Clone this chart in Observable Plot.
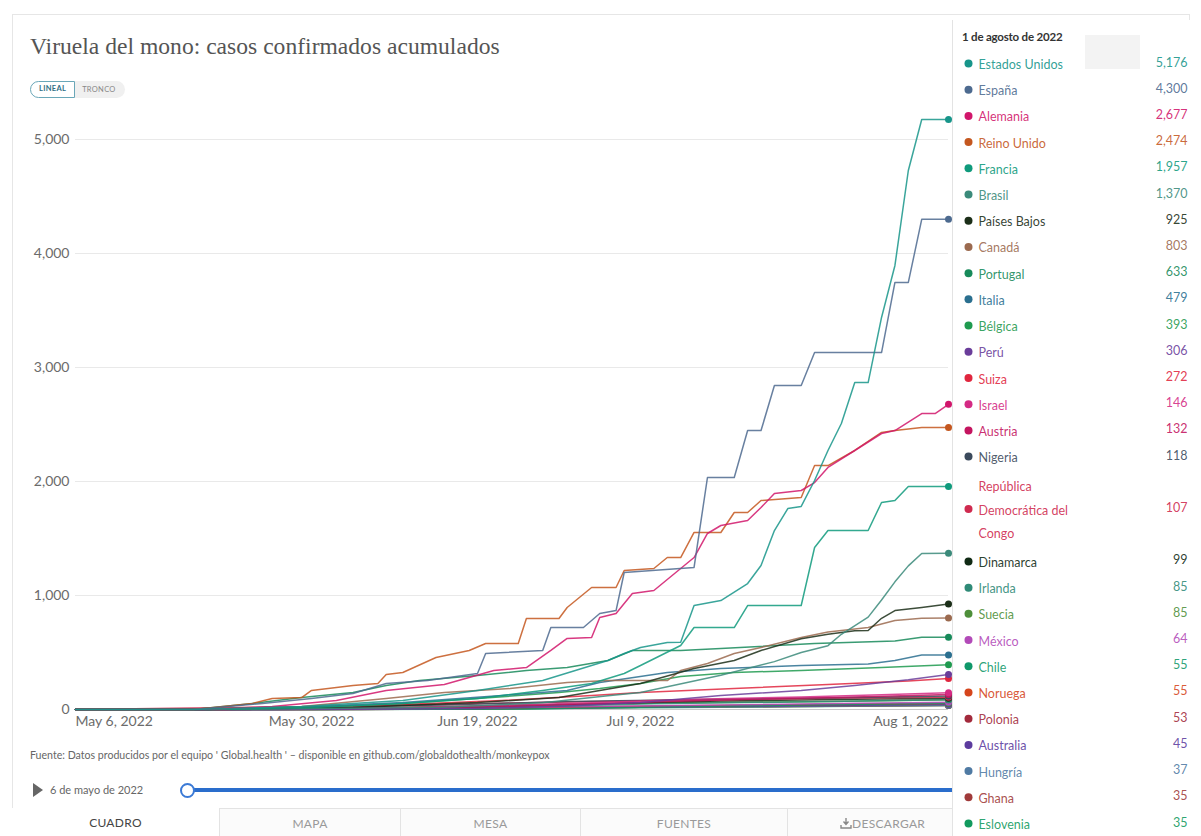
<!DOCTYPE html>
<html><head><meta charset="utf-8">
<script src="https://cdn.jsdelivr.net/npm/d3@7"></script>
<script src="https://cdn.jsdelivr.net/npm/@observablehq/plot@0.6"></script>
<style>
html,body{margin:0;padding:0}
body{width:1201px;height:836px;overflow:hidden;background:#fff;font-family:Lato,"Noto Sans",sans-serif;position:relative}
#card{position:absolute;left:12px;top:14px;width:1178px;height:830px;border:1px solid #e6e6e6;box-sizing:border-box}
#title{position:absolute;left:30px;top:33px;font-family:"Liberation Serif",serif;font-size:23.6px;color:#555;white-space:nowrap}
#toggle{position:absolute;left:30px;top:81px;height:17px;display:flex;font-size:7.5px;letter-spacing:.3px}
#toggle .on{border:1.5px solid #6aa7b8;border-radius:9px 0 0 9px;color:#2f6f86;padding:0 8px;line-height:14px;background:#fff;font-weight:700}
#toggle .off{background:#f0f0f0;border-radius:0 9px 9px 0;color:#888;padding:0 9px 0 7px;line-height:17px}
#chart{position:absolute;left:0;top:110px}
#source{position:absolute;left:30px;top:749px;font-size:10.6px;color:#666;white-space:nowrap}
#play{position:absolute;left:33px;top:783px;width:0;height:0;border-left:10px solid #666;border-top:7px solid transparent;border-bottom:7px solid transparent}
#slidedate{position:absolute;left:50px;top:783px;font-size:11px;color:#666}
#track{position:absolute;left:190px;top:788px;width:765px;height:4px;background:#2a6dcc}
#knob{position:absolute;left:180px;top:783px;width:11px;height:11px;border:2px solid #3b7ad6;border-radius:50%;background:#fff}
.tab{position:absolute;top:808px;height:28px;line-height:30px;text-align:center;font-size:12px;color:#999;border-top:1px solid #e3e3e3;border-left:1px solid #e3e3e3;background:#fbfbfb;box-sizing:border-box;letter-spacing:.3px}
.tab.active{border-top:none;background:#fff;color:#444;border-left:none}
#legendpanel{position:absolute;left:952px;top:20px;width:249px;height:816px;background:#fff;border-left:1px solid #e3e3e3;box-sizing:border-box}
#legendhead{position:absolute;left:962px;top:30px;font-size:11.5px;font-weight:700;color:#333;letter-spacing:-.2px}
#graybox{position:absolute;left:1085px;top:35px;width:55px;height:34px;background:#f3f3f3}
#legend{position:absolute;left:952px;top:20px}
</style></head>
<body>
<div id="card"></div>
<div id="title">Viruela del mono: casos confirmados acumulados</div>
<div id="toggle"><div class="on">LINEAL</div><div class="off">TRONCO</div></div>
<div id="chart"></div>
<div id="source">Fuente: Datos producidos por el equipo ' Global.health ' – disponible en github.com/globaldothealth/monkeypox</div>
<div id="play"></div>
<div id="slidedate">6 de mayo de 2022</div>
<div id="track"></div>
<div id="knob"></div>
<div class="tab active" style="left:12px;width:207px">CUADRO</div>
<div class="tab" style="left:219px;width:181px">MAPA</div>
<div class="tab" style="left:400px;width:180px">MESA</div>
<div class="tab" style="left:580px;width:207px">FUENTES</div>
<div class="tab" style="left:787px;width:240px;text-align:left;padding-left:52px"><svg width="12" height="11" viewBox="0 0 12 11" style="vertical-align:-1px"><path d="M6 0v6M3.5 3.5L6 6.5 8.5 3.5M1 7v3h10V7" stroke="#888" stroke-width="1.4" fill="none"/></svg>DESCARGAR</div>
<div id="legendpanel"></div>
<div id="graybox"></div>
<div id="legendhead">1 de agosto de 2022</div>
<div id="legend"></div>
<script>
const countries = ["Estados Unidos","España","Alemania","Reino Unido","Francia","Brasil","Países Bajos","Canadá","Portugal","Italia","Bélgica","Perú","Suiza","Israel","Austria","Nigeria","República Democrática del Congo","Dinamarca","Irlanda","Suecia","México","Chile","Noruega","Polonia","Australia","Hungría","Ghana","Eslovenia"];
const colors = ["#17958a","#4d6a8f","#d1166b","#c4571f","#0f9a7c","#3b8a7a","#1b2e18","#9b6a4f","#178a5a","#2a6f8f","#1f9a4f","#6a3d9a","#e0263e","#d42a84","#c4145f","#3b4a5c","#cf2a4f","#102a14","#2f8a77","#4e8f3a","#b24ab8","#10986a","#d5451c","#a22a3c","#5c3b9e","#4f7aa3","#a03a3a","#129a5e"];
const latest = [5176,4300,2677,2474,1957,1370,925,803,633,479,393,306,272,146,132,118,107,99,85,85,64,55,55,53,45,37,35,35];
const trajectories = [
 [["05-06",0],["05-18",0],["05-29",26],["06-10",79],["06-19",167],["06-27",254],["07-01",342],["07-05",430],["07-07",491],["07-09",544],["07-11",588],["07-12",590],["07-13",912],["07-15",956],["07-17",1105],["07-18",1263],["07-19",1570],["07-20",1763],["07-21",1781],["07-22",2009],["07-23",2272],["07-24",2509],["07-25",2868],["07-26",2868],["07-27",3439],["07-28",3895],["07-29",4728],["07-30",5176],["08-01",5176]],
 [["05-06",0],["05-18",0],["05-25",53],["05-30",96],["06-04",140],["06-08",228],["06-13",254],["06-19",316],["06-20",491],["06-27",518],["06-28",719],["07-02",719],["07-04",842],["07-06",868],["07-07",1202],["07-13",1246],["07-14",2035],["07-16",2035],["07-17",2447],["07-18",2447],["07-19",2842],["07-21",2842],["07-22",3131],["07-27",3131],["07-28",3746],["07-29",3746],["07-30",4300],["08-01",4300]],
 [["05-06",0],["05-19",0],["05-26",26],["06-02",79],["06-08",167],["06-15",219],["06-21",342],["06-25",368],["06-28",518],["06-30",623],["07-03",632],["07-04",807],["07-06",842],["07-08",1018],["07-10",1044],["07-13",1333],["07-14",1544],["07-15",1614],["07-17",1658],["07-18",1772],["07-19",1895],["07-21",1921],["07-22",1991],["07-23",2123],["07-25",2272],["07-27",2421],["07-28",2447],["07-30",2596],["07-31",2596],["08-01",2677]],
 [["05-06",0],["05-18",0],["05-24",53],["05-26",96],["05-29",105],["05-30",167],["06-04",211],["06-07",228],["06-08",307],["06-10",325],["06-14",456],["06-18",518],["06-20",579],["06-24",579],["06-25",798],["06-29",798],["06-30",895],["07-03",1070],["07-06",1070],["07-07",1219],["07-10",1237],["07-11",1333],["07-12",1333],["07-13",1553],["07-15",1553],["07-16",1728],["07-17",1728],["07-18",1833],["07-21",1860],["07-22",2140],["07-23",2140],["07-25",2272],["07-27",2430],["07-28",2447],["07-30",2474],["08-01",2474]],
 [["05-06",0],["05-19",0],["05-30",18],["06-10",53],["06-19",96],["06-27",167],["07-03",228],["07-07",316],["07-09",386],["07-12",561],["07-13",719],["07-16",719],["07-17",912],["07-21",912],["07-22",1421],["07-23",1570],["07-26",1570],["07-27",1816],["07-28",1833],["07-29",1957],["08-01",1957]],
 [["05-06",0],["05-22",0],["06-15",20],["06-27",60],["07-05",120],["07-09",150],["07-15",300],["07-19",420],["07-21",500],["07-23",560],["07-24",660],["07-26",810],["07-27",960],["07-28",1120],["07-29",1260],["07-30",1368],["08-01",1370]],
 [["05-06",0],["05-18",0],["06-04",18],["06-19",61],["06-29",105],["07-04",167],["07-09",228],["07-13",360],["07-16",430],["07-18",518],["07-21",620],["07-23",660],["07-25",690],["07-26",693],["07-27",800],["07-28",868],["07-30",895],["08-01",925]],
 [["05-06",0],["05-18",0],["05-29",26],["06-08",96],["06-15",150],["06-23",184],["06-30",237],["07-05",254],["07-11",254],["07-12",342],["07-14",404],["07-16",491],["07-18",544],["07-21",632],["07-23",680],["07-26",720],["07-28",780],["07-30",800],["08-01",803]],
 [["05-06",0],["05-18",0],["05-24",53],["05-29",105],["06-04",150],["06-08",210],["06-12",254],["06-19",298],["06-25",342],["06-30",368],["07-05",430],["07-08",518],["07-12",518],["07-15",535],["07-22",580],["07-28",600],["07-30",633],["08-01",633]],
 [["05-06",0],["05-19",0],["05-30",26],["06-10",61],["06-22",123],["06-30",167],["07-04",237],["07-11",325],["07-15",360],["07-21",385],["07-26",400],["07-28",430],["07-30",479],["08-01",479]],
 [["05-06",0],["05-20",0],["05-30",18],["06-10",53],["06-19",96],["06-29",149],["07-04",184],["07-09",228],["07-12",290],["07-16",325],["07-21",342],["07-27",368],["08-01",393]],
 [["05-06",0],["05-26",0],["06-19",9],["06-30",30],["07-09",61],["07-15",123],["07-21",167],["07-25",210],["07-29",260],["08-01",306]],
 [["05-06",0],["05-21",0],["05-30",18],["06-10",44],["06-22",79],["07-03",123],["07-09",150],["07-16",184],["07-23",220],["07-29",250],["08-01",272]],
 [["05-06",0],["05-20",0],["06-05",10],["06-19",30],["07-03",60],["07-13",90],["07-21",110],["07-27",130],["08-01",146]],
 [["05-06",0],["05-21",0],["06-10",10],["06-25",30],["07-07",60],["07-17",90],["07-25",110],["08-01",132]],
 [["05-06",0],["05-20",0],["05-30",20],["06-15",40],["06-30",70],["07-15",90],["07-25",105],["08-01",118]],
 [["05-06",0],["05-16",10],["06-05",30],["06-25",60],["07-10",80],["07-25",100],["08-01",107]],
 [["05-06",0],["05-20",0],["06-05",10],["06-19",25],["07-03",50],["07-15",75],["07-25",90],["08-01",99]],
 [["05-06",0],["05-26",0],["06-10",10],["06-25",25],["07-10",50],["07-23",70],["08-01",85]],
 [["05-06",0],["05-18",0],["06-10",20],["06-25",40],["07-09",55],["07-23",70],["08-01",85]],
 [["05-06",0],["05-26",0],["06-15",10],["06-30",25],["07-15",40],["07-25",55],["08-01",64]],
 [["05-06",0],["06-05",0],["06-25",5],["07-09",20],["07-21",40],["08-01",55]],
 [["05-06",0],["05-26",0],["06-10",5],["06-25",15],["07-10",30],["07-23",45],["08-01",55]],
 [["05-06",0],["06-05",0],["06-25",10],["07-09",25],["07-21",40],["08-01",53]],
 [["05-06",0],["05-21",0],["06-05",5],["06-25",15],["07-09",25],["07-23",35],["08-01",45]],
 [["05-06",0],["05-31",0],["06-20",10],["07-09",20],["07-23",30],["08-01",37]],
 [["05-06",0],["06-01",0],["06-20",5],["07-09",20],["07-23",28],["08-01",35]],
 [["05-06",0],["05-31",0],["06-15",5],["06-30",10],["07-15",20],["07-25",28],["08-01",35]]
];
const xTicks = ["2022-05-06","2022-05-30","2022-06-19","2022-07-09","2022-08-01"];
const yTicks = [0,1000,2000,3000,4000,5000];

const parse = d3.utcParse("%Y-%m-%d");
const tickDates = xTicks.map(parse);
const rows = countries.flatMap((c,i)=>trajectories[i].map(([md,v])=>({country:c,date:parse("2022-"+md),value:v}))).reverse();
const ends = countries.map((c,i)=>({country:c,date:parse("2022-"+trajectories[i].at(-1)[0]),value:latest[i]})).reverse();
const fmtDate = d3.utcFormat("%b %-d, %Y");
const fmtNum = d3.format(",");

const chart = Plot.plot({
  width: 960, height: 635,
  marginLeft: 75, marginRight: 12, marginTop: 29, marginBottom: 36,
  style: {fontFamily: "Lato, sans-serif", background: "transparent", overflow: "visible"},
  x: {type: "utc", domain: tickDates, range: [75, 311, 477, 640, 948], axis: null},
  y: {domain: [0, 5000], axis: null},
  color: {domain: countries, range: colors},
  marks: [
    Plot.gridY(yTicks.slice(1), {stroke: "#e9e9e9", strokeOpacity: 1}),
    Plot.ruleY([0], {stroke: "#c8c8c8"}),
    Plot.text(yTicks, {y: d => d, text: d => fmtNum(d), frameAnchor: "left", textAnchor: "end", dx: -6, fontSize: 14, fill: "#6b6b6b"}),
    Plot.text(tickDates.slice(0,1), {x: d => d, text: d => fmtDate(d), frameAnchor: "bottom", textAnchor: "start", dy: 16, fontSize: 14, fill: "#6b6b6b"}),
    Plot.text(tickDates.slice(1,-1), {x: d => d, text: d => fmtDate(d), frameAnchor: "bottom", textAnchor: "middle", dy: 16, fontSize: 14, fill: "#6b6b6b"}),
    Plot.text(tickDates.slice(-1), {x: d => d, text: d => fmtDate(d), frameAnchor: "bottom", textAnchor: "end", dy: 16, fontSize: 14, fill: "#6b6b6b"}),
    Plot.line(rows, {x: "date", y: "value", z: "country", stroke: "country", strokeWidth: 1.5, strokeOpacity: 0.85}),
    Plot.dot(ends, {x: "date", y: "value", fill: "country", r: 3.5})
  ]
});
document.getElementById("chart").append(chart);

let idx = 0;
const legendRows = countries.map((c,i)=>{
  const label = c === "República Democrática del Congo" ? "República\nDemocrática del\nCongo" : c;
  const n = label.split("\n").length;
  const r = {country: c, label, value: latest[i], y: idx + (n-1)/2};
  idx += n;
  return r;
});
const legend = Plot.plot({
  width: 249, height: 816, margin: 0,
  style: {fontFamily: "Lato, sans-serif", background: "transparent"},
  x: {domain: [0, 1], axis: null},
  y: {domain: [0, 29], range: [43, 803], axis: null},
  color: {domain: countries, range: colors},
  marks: [
    Plot.dot(legendRows, {y: "y", fill: "country", r: 4, frameAnchor: "left", dx: 16}),
    Plot.text(legendRows, {y: "y", text: "label", fill: "country", frameAnchor: "left", textAnchor: "start", dx: 26, dy: -2, fontSize: 12.5, lineHeight: 1.88, fillOpacity: 0.9}),
    Plot.text(legendRows, {y: "y", text: d => fmtNum(d.value), fill: "country", frameAnchor: "right", textAnchor: "end", dx: -14, dy: -1, fontSize: 12.5, fillOpacity: 0.9})
  ]
});
document.getElementById("legend").append(legend);
</script>
</body></html>
